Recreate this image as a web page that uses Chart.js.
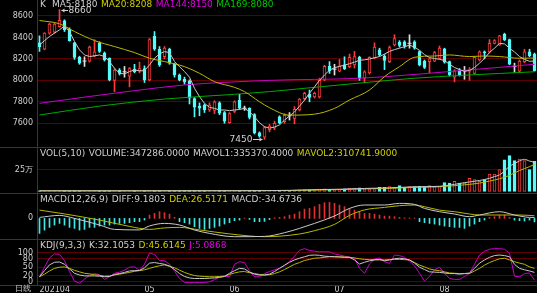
<!DOCTYPE html>
<html>
<head>
<meta charset="utf-8">
<script src="https://cdn.jsdelivr.net/npm/chart.js@4.4.1/dist/chart.umd.min.js"></script>
<style>
  html, body { margin: 0; padding: 0; background: #000; }
  body { position: relative; width: 537px; height: 293px; overflow: hidden; font-family: "DejaVu Sans", sans-serif; }
  canvas { position: absolute; left: 0; }
  .hl { position: absolute; left: 0; width: 537px; height: 1px; background: #b40000; }
  .vl { position: absolute; left: 37px; top: 0; width: 1px; height: 285px; background: #b40000; }
  .ttl { position: absolute; left: 40px; font-size: 9px; line-height: 10px; white-space: nowrap; color: #d0d0d0; }
  .ttl span { margin-right: 3.5px; }
  .yl { color: #d0d000; }
  .mg { color: #e000e0; }
  .gn { color: #00c800; }
  .mark { position: absolute; font-size: 9px; line-height: 10px; color: #d0d0d0; white-space: nowrap; }
  .foot { position: absolute; left: 15px; top: 284px; font-size: 8px; line-height: 10px; color: #d0d0d0; }
</style>
</head>
<body>
<canvas id="cK" width="537" height="147" style="top:0"></canvas>
<canvas id="cV" width="537" height="45" style="top:148px"></canvas>
<canvas id="cM" width="537" height="45" style="top:194px"></canvas>
<canvas id="cJ" width="537" height="53" style="top:240px"></canvas>

<div class="hl" style="top:147px"></div>
<div class="hl" style="top:193px"></div>
<div class="hl" style="top:239px"></div>
<div class="hl" style="top:285px"></div>
<div class="vl"></div>

<div class="ttl" style="top:-1px"><span style="margin-right:6px">K</span><span>MA5:8180</span><span class="yl">MA20:8208</span><span class="mg">MA144:8150</span><span class="gn">MA169:8080</span></div>
<div class="ttl" style="top:148px"><span>VOL(5,10)</span><span>VOLUME:347286.0000</span><span>MAVOL1:335370.4000</span><span class="yl">MAVOL2:310741.9000</span></div>
<div class="ttl" style="top:194px"><span>MACD(12,26,9)</span><span>DIFF:9.1803</span><span class="yl">DEA:26.5171</span><span>MACD:-34.6736</span></div>
<div class="ttl" style="top:240px"><span>KDJ(9,3,3)</span><span>K:32.1053</span><span class="yl">D:45.6145</span><span class="mg">J:5.0868</span></div>
<div class="foot">日线</div>
<div class="mark" id="hiLbl"></div>
<div class="mark" id="loLbl"></div>

<script>
// daily bars, 2021-04 .. 2021-08
const open = [8350,8290,8440,8450,8500,8555,8475,8350,8215,8180,
  8180,8230,8345,8255,8205,8000,8095,8080,8040,8105,
  8090,8110,8005,8410,8290,8220,8290,8150,8050,8010,
  7995,7830,7760,7770,7725,7720,7790,7700,7605,7710,
  7815,7740,7740,7680,7510,7470,7540,7555,7660,7615,
  7670,7645,7725,7830,7870,7845,7845,8005,8130,8105,
  8085,8145,8128,8145,8215,8020,8070,8210,8285,8225,
  8175,8330,8355,8360,8345,8360,8268,8180,8175,8180,
  8205,8295,8175,8030,8090,8090,8085,8065,8190,8265,
  8265,8345,8330,8430,8380,8130,8085,8175,8265,8245];
const high = [8415,8445,8535,8535,8660,8565,8490,8355,8225,8220,
  8320,8380,8360,8265,8210,8110,8110,8130,8120,8150,
  8170,8135,8390,8455,8315,8315,8300,8160,8060,8030,
  8005,7840,7790,7780,7790,7810,7800,7710,7700,7810,
  7870,7760,7745,7690,7520,7570,7590,7620,7670,7690,
  7700,7755,7830,7890,7910,7890,8020,8140,8175,8150,
  8195,8220,8245,8270,8225,8090,8220,8350,8300,8240,
  8320,8425,8370,8370,8425,8370,8275,8190,8205,8270,
  8320,8300,8180,8100,8110,8130,8120,8220,8275,8275,
  8380,8380,8420,8440,8385,8160,8190,8290,8290,8255];
const low = [8270,8285,8430,8440,8495,8455,8365,8195,8150,8130,
  8170,8220,8260,8180,7995,7895,8050,8030,7940,8070,
  8070,7980,7995,8280,8130,8200,8150,8030,7995,7965,
  7780,7660,7670,7700,7710,7690,7680,7600,7600,7700,
  7730,7720,7640,7500,7470,7450,7520,7540,7595,7600,
  7630,7595,7715,7815,7800,7835,7835,7995,8065,8050,
  8080,8100,8120,8115,8000,7975,8060,8200,8225,8100,
  8165,8320,8310,8300,8300,8290,8135,8110,8070,8175,
  8200,8160,8040,7985,8040,8010,8000,8060,8180,8200,
  8255,8340,8325,8370,8145,8075,8075,8165,8220,8085];
const close = [8315,8440,8525,8525,8560,8470,8370,8215,8160,8180,
  8310,8265,8270,8190,8005,8095,8065,8080,8110,8080,
  8110,8005,8380,8290,8145,8300,8160,8050,8005,7985,
  7835,7750,7740,7725,7770,7800,7695,7620,7690,7800,
  7740,7740,7655,7510,7480,7560,7575,7600,7605,7675,
  7670,7730,7825,7880,7840,7880,8000,8130,8090,8105,
  8130,8110,8215,8222,8020,8080,8215,8310,8238,8185,
  8305,8390,8325,8320,8345,8300,8143,8120,8200,8260,
  8300,8170,8050,8090,8045,8090,8100,8215,8265,8255,
  8345,8370,8415,8380,8150,8130,8180,8265,8230,8090];

const ma5 = [8330,8370,8409,8440,8471,8508,8455,8362,8284,8237,
  8222,8228,8237,8222,8175,8113,8066,8060,8082,8097,
  8088,8091,8144,8206,8247,8268,8259,8175,8128,8082,
  8029,7926,7848,7786,7749,7739,7724,7724,7718,7724,
  7729,7739,7708,7661,7605,7568,7555,7565,7585,7630,
  7668,7705,7760,7815,7880,7940,8000,8050,8095,8118,
  8130,8142,8155,8170,8188,8191,8200,8210,8222,8245,
  8270,8287,8300,8314,8328,8310,8280,8240,8212,8204,
  8196,8185,8150,8120,8100,8085,8092,8120,8160,8205,
  8260,8300,8345,8340,8300,8265,8222,8195,8178,8180];
// longer averages read at a few bars: [bar, value]
const ma20 = [[0,8558],[4,8527],[7,8455],[11,8371],[15,8315],[19,8259],[22,8206],[25,8175],[29,8128],
  [32,8066],[35,7988],[39,7935],[41,7895],[44,7801],[46,7745],[50,7676],[55,7685],[59,7739],[62,7817],
  [66,7910],[69,8035],[72,8128],[75,8215],[79,8227],[82,8237],[86,8222],[89,8227],[92,8222],[96,8206],[99,8208]];
const ma144 = [[0,7786],[10,7850],[19,7904],[29,7957],[46,8000],[64,8020],[82,8082],[99,8150]];
const ma169 = [[0,7677],[12,7760],[25,7826],[39,7870],[46,7895],[55,7935],[65,7979],[75,8020],[85,8048],[99,8080]];

const vol = [6000,5000,6000,5000,7000,5000,6000,7000,5000,4000,
  6000,5000,4000,5000,7000,6000,4000,4000,5000,4000,
  5000,6000,9000,7000,6000,5000,5000,6000,5000,5000,
  8000,7000,6000,5000,6000,6000,7000,6000,8000,7000,
  8000,7000,8000,10000,9000,12000,10000,11000,10000,12000,
  12000,15000,18000,20000,17000,20000,25000,28000,24000,18000,
  25000,30000,36000,36000,40000,30000,30000,20000,45000,45000,
  55000,42000,65000,42000,55000,55000,60000,55000,65000,55000,
  55000,100000,95000,115000,95000,95000,150000,135000,115000,135000,
  200000,200000,250000,365000,413000,355000,372000,355000,250000,347286];
const mavol1 = [[0,5500],[20,5500],[40,7000],[50,11000],[56,20000],[60,24000],[65,33000],[70,40000],[75,52000],
  [80,58000],[83,80000],[85,100000],[88,125000],[90,150000],[91,170000],[92,190000],[93,235000],[94,290000],
  [95,320000],[96,352000],[97,370000],[98,350000],[99,335370]];
const mavol2 = [[0,5500],[20,5500],[40,6500],[50,9000],[56,15000],[60,20000],[65,28000],[70,34000],[75,45000],
  [80,53000],[85,75000],[88,95000],[90,118000],[92,145000],[94,185000],[96,240000],[98,285000],[99,310742]];

const macdHist = [-150,-117,-90,-67,-50,-67,-90,-100,-117,-110,
  -90,-90,-77,-67,-67,-57,-50,-50,-43,-33,
  -33,-17,33,50,67,57,43,10,-33,-43,
  -57,-83,-100,-110,-100,-90,-77,-57,-43,-23,
  -17,3,-10,-33,-33,-30,-12,5,10,17,
  33,43,67,93,100,117,140,157,160,150,
  133,117,100,83,67,50,50,43,33,23,
  23,17,10,5,4,3,-33,-43,-50,-57,
  -67,-77,-83,-90,-90,-100,-77,-57,-33,-17,
  10,17,33,33,10,-17,-23,-27,-17,-34.67];
const diff = [[0,10],[4,30],[7,0],[12,-66],[15,-110],[20,-115],[22,-75],[25,-50],[28,-66],[31,-116],[34,-150],
  [39,-183],[45,-180],[49,-143],[52,-100],[55,-50],[59,24],[62,100],[65,134],[69,134],[72,150],[75,140],
  [77,100],[80,67],[83,44],[86,17],[88,34],[92,67],[95,34],[98,10],[99,9.18]];
const dea = [[0,83],[5,45],[12,-17],[18,-80],[22,-110],[25,-95],[28,-90],[32,-115],[38,-155],[45,-183],
  [52,-156],[55,-123],[59,-60],[62,30],[65,85],[69,110],[72,127],[75,134],[77,117],[80,83],[83,67],
  [86,44],[88,34],[92,34],[96,34],[99,26.52]];

const kLine = [17,38,58,67,68,60,44,29,23,20,
  20,20,19,17,18,25,28,32,37,38,
  39,48,64,66,63,60,54,42,28,18,
  13,11,11,11,12,13,15,18,29,38,
  46,44,33,26,23,23,26,35,46,57,
  67,75,81,86,91,92,91,88,87,86,
  85,84,84,75,61,67,72,75,77,72,
  75,79,81,79,75,64,50,42,34,33,
  32,30,28,28,26,28,30,46,64,75,
  84,90,92,90,86,60,46,41,37,32];
const dLine = [17,26,37,46,50,51,46,39,34,29,
  27,24,22,19,20,23,26,29,32,36,
  38,41,46,51,55,58,53,48,40,32,
  26,21,19,18,17,17,18,19,25,30,
  34,35,31,28,25,23,24,28,34,42,
  51,60,66,73,77,81,82,84,86,86,
  86,85,84,82,79,77,76,76,75,75,
  76,77,77,76,75,66,57,51,44,40,
  38,34,30,29,28,28,28,37,46,57,
  66,73,79,81,75,69,64,60,51,46];
const jLine = [17,50,82,96,94,73,35,2,-5,9,
  22,28,24,8,17,29,33,40,50,51,
  39,60,99,94,73,72,60,37,11,-2,
  -3,-3,-3,-3,0,7,16,19,17,60,
  69,66,37,17,17,28,35,41,46,55,
  70,88,108,114,108,105,103,103,103,96,
  92,88,85,81,46,29,61,78,82,69,
  63,92,90,84,71,55,29,2,18,41,
  50,29,11,8,8,18,29,60,92,105,
  112,114,114,112,98,19,17,28,30,5];

const monthIdx = [0, 21, 38, 59, 80];
const monthLbl = ['202104', '05', '06', '07', '08'];
const priceTicks = [7600, 7800, 8000, 8200, 8400, 8600];
const volTicks = [250000];
const macdTicks = [0];
const kdjTicks = [0, 20, 50, 80, 100];

const UP = '#ff3c3c', DN = '#54fcfc', DOJI = '#e0e0e0';
const TXT = '#d0d0d0', GRID = '#5a0000';
const WHITE_LN = '#c8c8c8', YEL_LN = '#b8b800', MAG_LN = '#c800c8', GRN_LN = '#00a800';

Chart.defaults.font.family = '"DejaVu Sans", sans-serif';
Chart.defaults.font.size = 8;
Chart.defaults.color = TXT;

const dir = close.map((c, i) => c > open[i] ? 1 : c < open[i] ? -1 : 0);
const pts = arr => arr.map((v, i) => ({ x: i, y: v }));
const pairs = arr => arr.map(([x, y]) => ({ x, y }));

function lineDs(data, color, smooth) {
  return { type: 'line', data, borderColor: color, borderWidth: 1, pointRadius: 0,
    cubicInterpolationMode: smooth ? 'monotone' : 'default', tension: 0, order: 0 };
}

// the axes may not push the plot area in: each panel keeps its full height
const noPad = s => { s.paddingTop = s.paddingBottom = s.paddingLeft = s.paddingRight = 0; };

function opts(min, max, ticks, fmt, gridOn = true) {
  return {
    responsive: false, animation: false, events: [],
    layout: { padding: 0, autoPadding: false },
    plugins: { legend: { display: false }, tooltip: { enabled: false } },
    scales: {
      x: { type: 'linear', min: -0.5, max: 99.5, offset: false, display: false },
      y: {
        type: 'linear', min, max, offset: false,
        afterFit: s => { s.width = 37; noPad(s); },
        afterBuildTicks: s => { s.ticks = ticks.map(v => ({ value: v })); },
        grid: { display: gridOn, color: GRID, drawTicks: false },
        border: { display: false },
        ticks: { padding: 4, autoSkip: false, color: TXT, font: { size: 8 }, callback: fmt || (v => String(v)) }
      }
    }
  };
}

// high / low markers
const hiIdx = high.indexOf(Math.max(...high));
const loIdx = low.indexOf(Math.min(...low));

function arrow(ctx, from, to, y) {
  const d = Math.sign(to - from);
  ctx.beginPath(); ctx.moveTo(from, y); ctx.lineTo(to, y); ctx.stroke();
  ctx.beginPath(); ctx.moveTo(to, y); ctx.lineTo(to - d * 3, y - 2); ctx.lineTo(to - d * 3, y + 2); ctx.closePath(); ctx.fill();
}

const extremes = {
  id: 'extremes',
  afterDraw(c) {
    const { ctx, scales: { x, y } } = c;
    const hx = x.getPixelForValue(hiIdx), hy = Math.round(y.getPixelForValue(high[hiIdx])) + 0.5;
    const lx = x.getPixelForValue(loIdx), ly = Math.round(y.getPixelForValue(low[loIdx])) + 0.5;
    ctx.save();
    ctx.strokeStyle = ctx.fillStyle = TXT; ctx.lineWidth = 1;
    arrow(ctx, hx + 8.5, hx + 2, hy);
    arrow(ctx, lx - 11.5, lx - 2, ly);
    ctx.restore();
    const hl = document.getElementById('hiLbl');
    hl.textContent = high[hiIdx];
    hl.style.left = (hx + 9) + 'px'; hl.style.top = (hy - 5.5) + 'px';
    const ll = document.getElementById('loLbl');
    ll.textContent = low[loIdx];
    ll.style.left = (lx - 12) + 'px'; ll.style.top = (ly - 5.5) + 'px';
    ll.style.transform = 'translateX(-100%)';
  }
};

// K panel
new Chart(document.getElementById('cK'), {
  type: 'bar',
  data: {
    datasets: [
      lineDs(pts(ma5), WHITE_LN, false),
      lineDs(pairs(ma20), YEL_LN, true),
      lineDs(pairs(ma144), MAG_LN, true),
      lineDs(pairs(ma169), GRN_LN, true),
      { type: 'line', showLine: false, order: 1,
        data: close.map((c, i) => ({ x: i, y: dir[i] === 0 ? c : null })),
        pointStyle: 'line', pointRadius: 2, pointBorderWidth: 1, pointBorderColor: DOJI },
      { type: 'bar', order: 2, grouped: false, barThickness: 3,
        data: open.map((o, i) => ({ x: i, y: [Math.min(o, close[i]), Math.max(o, close[i])] })),
        backgroundColor: dir.map(d => d > 0 ? '#000' : d < 0 ? DN : DOJI),
        borderColor: dir.map(d => d > 0 ? UP : d < 0 ? DN : DOJI),
        borderWidth: 1, borderSkipped: false },
      { type: 'bar', order: 3, grouped: false, barThickness: 1,
        data: low.map((l, i) => ({ x: i, y: [l, high[i]] })),
        backgroundColor: dir.map(d => d > 0 ? UP : d < 0 ? DN : DOJI) }
    ]
  },
  options: opts(7379, 8749, priceTicks),
  plugins: [extremes]
});

// volume panel
const volUp = close.map((c, i) => c > open[i] || (c === open[i] && i > 0 && c >= close[i - 1]));
new Chart(document.getElementById('cV'), {
  type: 'bar',
  data: {
    datasets: [
      lineDs(pairs(mavol1), WHITE_LN, true),
      lineDs(pairs(mavol2), YEL_LN, true),
      { type: 'bar', order: 2, grouped: false, barThickness: 3, data: pts(vol),
        backgroundColor: volUp.map(u => u ? '#000' : DN),
        borderColor: volUp.map(u => u ? UP : DN), borderWidth: 1, borderSkipped: false }
    ]
  },
  options: opts(-19676, 501157, volTicks, v => v / 10000 + '万')
});

// MACD panel
new Chart(document.getElementById('cM'), {
  type: 'bar',
  data: {
    datasets: [
      lineDs(pairs(diff), WHITE_LN, true),
      lineDs(pairs(dea), YEL_LN, true),
      { type: 'bar', order: 2, grouped: false, barThickness: 1, data: pts(macdHist),
        backgroundColor: macdHist.map(v => v >= 0 ? '#e03030' : '#40e8e8') }
    ]
  },
  options: opts(-206, 244, macdTicks, null, false)
});

// KDJ panel with date axis
const kdjOpts = opts(-11.4, 143.8, kdjTicks);
kdjOpts.scales.x = {
  type: 'linear', min: -0.5, max: 99.5, offset: false, position: 'bottom',
  afterFit: s => { s.height = 8; noPad(s); },
  afterBuildTicks: s => { s.ticks = monthIdx.map(v => ({ value: v })); },
  grid: { display: false, drawTicks: false },
  border: { display: false },
  ticks: { align: 'start', padding: 0, maxRotation: 0, minRotation: 0, autoSkip: false, color: TXT,
    font: { size: 8 }, callback: v => monthLbl[monthIdx.indexOf(v)] }
};
new Chart(document.getElementById('cJ'), {
  type: 'line',
  data: {
    datasets: [
      lineDs(pts(kLine), WHITE_LN, false),
      lineDs(pts(dLine), YEL_LN, false),
      lineDs(pts(jLine), MAG_LN, false)
    ]
  },
  options: kdjOpts
});
</script>
</body>
</html>
